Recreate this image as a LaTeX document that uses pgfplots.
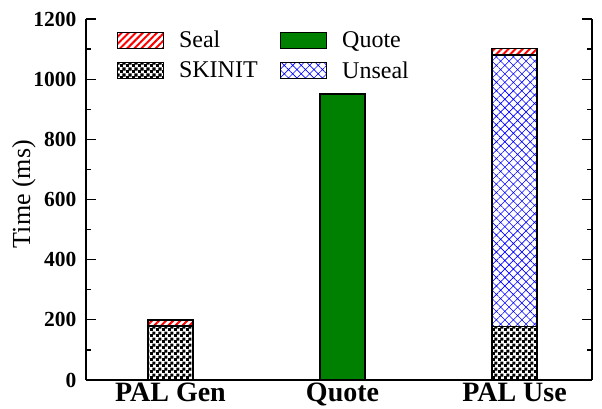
\documentclass[border=0pt]{standalone}
\usepackage{fontspec}
\setmainfont{Liberation Serif}
\usepackage{pgfplots}
\pgfplotsset{compat=1.18}
\usetikzlibrary{patterns,patterns.meta}
\definecolor{qgreen}{RGB}{0,128,0}
\tikzdeclarepattern{name=smallcheck, type=uncolored,
  bottom left={(0pt,0pt)}, top right={(6pt,6pt)}, tile size={(6pt,6pt)},
  code={\fill (-0.3pt,-0.3pt) rectangle (3.3pt,3.3pt); \fill (2.7pt,2.7pt) rectangle (6.3pt,6.3pt);}}
\begin{document}
\begin{tikzpicture}
\begin{axis}[
  name=ax,
  scale only axis, width=506pt, height=361pt,
  xmin=-0.491, xmax=2.45, ymin=0, ymax=1200,
  ybar stacked, bar width=45pt,
  xtick={0,1,2}, xticklabels={PAL Gen,Quote,PAL Use},
  axis x line=bottom, axis y line=box,
  x axis line style={-, line width=1.5pt},
  y axis line style={-, line width=1.5pt},
  ytick={0,200,...,1200}, minor y tick num=1,
  tick align=inside, major tick length=10pt, minor tick length=5pt,
  y tick style={line width=1.3pt, black},
  x tick style={draw=none},
  /pgf/number format/assume math mode=true,
  /pgf/number format/1000 sep={},
  y tick label style={font=\fontsize{21.5}{24}\selectfont\bfseries, xshift=-6pt},
  x tick label style={font=\fontsize{28}{32}\selectfont\bfseries, yshift=1pt},
  ylabel={Time (ms)},
  ylabel style={font=\fontsize{26}{30}\selectfont, at={(axis description cs:-0.123,0.515)}, anchor=center},
  legend columns=2,
  legend cell align=left,
  legend style={draw=none, fill=none, at={(axis description cs:0.06,0.972)}, anchor=north west,
    font=\fontsize{24}{28}\selectfont, inner sep=0pt, row sep=8pt,
    /tikz/every odd column/.append style={column sep=13pt},
    /tikz/every even column/.append style={column sep=20pt}},
  legend image code/.code={\draw[#1] (0pt,-8pt) rectangle (46pt,8pt);},
]
\addlegendimage{draw=black, line width=1.5pt, pattern={Lines[angle=45,distance=5pt,line width=2pt]}, pattern color=red}
\addlegendimage{draw=black, line width=1.5pt, fill=qgreen}
\addlegendimage{draw=black, line width=1.5pt, pattern=smallcheck, pattern color=black}
\addlegendimage{draw=black, line width=1.5pt, pattern={Hatch[angle=45,distance=6pt,line width=0.6pt]}, pattern color=blue}
% SKINIT
\addplot[draw=black, line width=1.5pt, pattern=smallcheck, pattern color=black]
  coordinates {(0,180) (1,0) (2,178)};
% Quote
\addplot[draw=black, line width=1.5pt, fill=qgreen]
  coordinates {(0,0) (1,950) (2,0)};
% Unseal
\addplot[draw=black, line width=1.5pt, pattern={Hatch[angle=45,distance=6pt,line width=0.6pt]}, pattern color=blue]
  coordinates {(0,0) (1,0) (2,902)};
% Seal
\addplot[draw=black, line width=1.5pt, pattern={Lines[angle=45,distance=5pt,line width=2pt]}, pattern color=red]
  coordinates {(0,19) (1,0) (2,22)};
\legend{Seal,Quote,SKINIT,Unseal}
\end{axis}
\pgfresetboundingbox
\path ([shift={(-86pt,-29pt)}]ax.south west) rectangle ([shift={(10pt,19pt)}]ax.north east);
\end{tikzpicture}
\end{document}
